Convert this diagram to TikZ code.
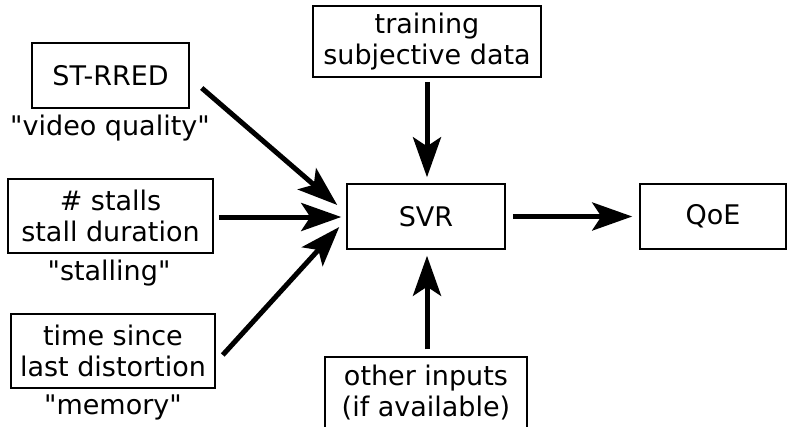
\documentclass[tikz,border=0pt]{standalone}
\usepackage{fontspec}
\setmainfont{DejaVu Sans}[Ligatures=TeXOff]
\usetikzlibrary{arrows.meta,calc}
\tikzset{
  box/.style={draw, line width=1.5pt, inner sep=0pt, align=center, font=\fontsize{27}{31}\selectfont},
  lbl/.style={inner sep=0pt, font=\fontsize{27}{31}\selectfont},
  conn/.style={line width=5pt, -{Stealth[length=40pt,width=28pt,inset=9pt]}}
}
\begin{document}
\begin{tikzpicture}[x=1pt,y=-1pt]
\useasboundingbox (0,0) rectangle (789,426);
\clip (0,0) rectangle (789,426);
\node[box, minimum width=157pt, minimum height=65pt] (rred) at (110.5,75.5) {ST-RRED};
\node[lbl] (rredl) at (110,128) {"video quality"};
\node[box, minimum width=205pt, minimum height=74pt] (stalls) at (110.5,216) {\# stalls\\stall duration};
\node[lbl] (stallsl) at (109,273) {"stalling"};
\node[box, minimum width=204pt, minimum height=74pt] (mem) at (113,351) {time since\\last distortion};
\node[lbl] (meml) at (113,407) {"memory"};
\node[box, minimum width=228pt, minimum height=71pt] (train) at (427,41.5) {training\\subjective data};
\node[box, minimum width=158pt, minimum height=65pt] (svr) at (426,216.5) {SVR};
\node[box, minimum width=146pt, minimum height=65pt] (qoe) at (713,216.5) {QoE};
\node[box, minimum width=202pt, minimum height=71pt] (other) at (426,392.5) {other inputs\\(if available)};
\draw[conn] ($(rred.east)+(12,12.5)$) -- ($(svr.west)+(-9,-11.5)$);
\draw[conn] ($(stalls.east)+(5,1)$) -- ($(svr.west)+(-5,0.5)$);
\draw[conn] ($(mem.east)+(7,4)$) -- ($(svr.west)+(-7,10.5)$);
\draw[conn] ($(train.south)+(0,4)$) -- ($(svr.north)+(1,-6)$);
\draw[conn] ($(other.north)+(1,-7)$) -- ($(svr.south)+(1,6)$);
\draw[conn] ($(svr.east)+(7,0)$) -- ($(qoe.west)+(-7,0)$);
\end{tikzpicture}
\end{document}
